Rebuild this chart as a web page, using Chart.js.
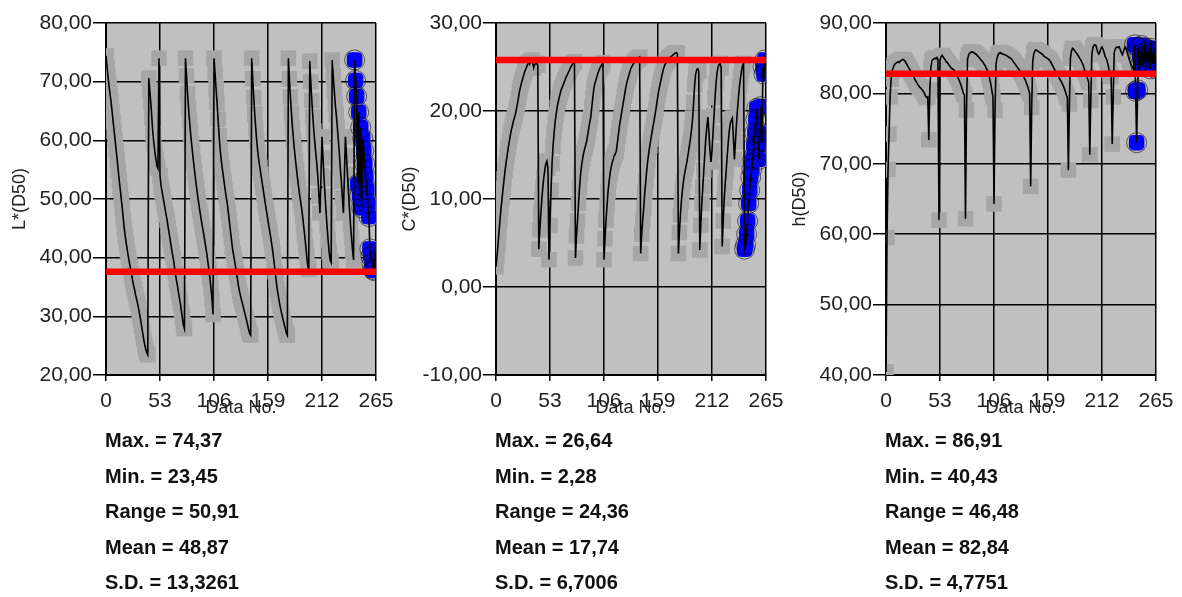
<!DOCTYPE html>
<html>
<head>
<meta charset="utf-8">
<script src="https://cdn.jsdelivr.net/npm/chart.js@4.4.1/dist/chart.umd.min.js"></script>
<style>
  html, body { margin: 0; padding: 0; background: #fff; overflow: hidden; }
  body { width: 1182px; height: 597px; position: relative; font-family: "Liberation Sans", Arial, sans-serif; }
  canvas { position: absolute; top: 0; }
  .stats { position: absolute; top: 423px; font-weight: bold; font-size: 20px; line-height: 35.5px; color: #111; white-space: nowrap; }
</style>
</head>
<body>
<canvas id="chartL" width="420" height="430" style="left:0px"></canvas>
<canvas id="chartC" width="420" height="430" style="left:390px"></canvas>
<canvas id="chartH" width="420" height="430" style="left:780px"></canvas>
<div class="stats" id="statsL" style="left:105px"></div>
<div class="stats" id="statsC" style="left:495px"></div>
<div class="stats" id="statsH" style="left:885px"></div>
<script>
// L*(D50), one value per data no. 0..265
const lValues = [
  74.4, 72.5, 70.8, 69.2, 67.9, 66.5, 64.9, 63.2, 61.6, 60.0,
  58.3, 56.6, 54.9, 53.2, 51.6, 50.0, 48.4, 46.6, 44.9, 43.5,
  42.3, 41.2, 40.1, 39.1, 38.2, 37.3, 36.2, 35.3, 34.6, 33.7,
  32.9, 32.2, 31.3, 30.3, 29.4, 28.3, 27.2, 26.1, 25.2, 24.4,
  23.8, 23.45, 70.6, 68.5, 66.4, 63.8, 61.2, 59.5, 58.0, 56.8,
  55.6, 55.2, 74.0, 54.0, 52.3, 51.3, 50.3, 49.3, 48.3, 47.3,
  46.4, 45.2, 44.1, 43.0, 41.9, 40.8, 39.9, 38.7, 37.4, 36.3,
  35.3, 34.2, 33.2, 32.2, 30.9, 29.7, 28.5, 27.9, 74.0, 71.0,
  68.0, 65.5, 63.3, 61.2, 59.5, 57.8, 56.2, 54.7, 53.2, 51.8,
  50.5, 49.3, 48.1, 47.0, 45.9, 44.9, 43.9, 42.8, 41.7, 40.6,
  39.3, 37.9, 36.5, 34.8, 33.0, 30.3, 74.0, 71.5, 68.8, 66.4,
  63.6, 60.8, 58.5, 56.8, 55.4, 54.1, 52.8, 51.5, 50.3, 49.3,
  47.8, 46.3, 44.8, 43.3, 41.8, 40.7, 39.7, 38.6, 37.5, 36.4,
  35.2, 34.3, 33.5, 32.8, 32.1, 31.4, 30.7, 30.0, 29.3, 28.5,
  27.7, 27.1, 26.8, 74.0, 70.5, 67.3, 64.5, 62.0, 59.8, 58.0,
  56.6, 55.4, 54.2, 53.1, 52.0, 50.8, 49.6, 48.5, 47.4, 46.3,
  45.2, 44.2, 43.1, 41.9, 40.6, 39.2, 37.6, 36.1, 34.7, 33.6,
  32.6, 31.6, 30.8, 30.0, 29.3, 28.6, 27.9, 27.2, 26.8, 74.0,
  70.5, 67.4, 64.6, 62.2, 60.1, 58.3, 56.6, 55.0, 53.5, 52.1,
  50.8, 49.6, 48.4, 47.0, 45.4, 43.8, 42.1, 40.3, 38.6, 38.0,
  73.5, 70.0, 66.8, 64.0, 61.6, 59.5, 57.6, 55.8, 53.6, 50.5,
  47.6, 54.0, 60.6, 57.0, 53.5, 50.5, 47.8, 45.3, 43.0, 41.0,
  39.6, 39.2, 73.7, 71.0, 68.6, 66.2, 64.4, 62.3, 60.1, 57.8,
  55.2, 53.0, 50.2, 47.6, 54.0, 60.6, 57.4, 54.2, 51.0, 48.2,
  45.6, 43.3, 41.2, 39.6, 73.7, 70.2, 67.5, 52.5, 64.8, 50.5,
  62.2, 48.5, 60.3, 58.2, 56.0, 53.8, 51.5, 49.2, 47.0, 41.5,
  40.2, 39.0, 38.0, 37.8, 40.6, 39.5,
];

// C*(D50)
const cValues = [
  2.3, 3.5, 4.9, 6.3, 7.7, 9.0, 10.1, 11.2, 12.3, 13.3,
  14.2, 15.0, 15.8, 16.5, 17.2, 17.8, 18.3, 18.8, 19.2, 19.6,
  20.2, 20.8, 21.5, 22.2, 22.7, 23.2, 23.6, 24.0, 24.4, 24.7,
  25.0, 25.3, 25.5, 25.3, 25.6, 25.8, 25.5, 24.9, 25.3, 25.4,
  25.4, 25.2, 4.3, 6.5, 8.3, 10.0, 11.4, 12.5, 13.4, 14.0,
  14.3, 13.5, 3.1, 7.0, 11.0, 14.0, 16.0, 17.5, 18.7, 19.6,
  20.4, 21.0, 21.5, 22.0, 22.4, 22.7, 23.0, 23.3, 23.6, 23.9,
  24.1, 24.4, 24.6, 24.9, 25.1, 25.3, 25.5, 25.6, 3.3, 5.8,
  7.5, 9.5, 11.3, 12.8, 13.8, 14.6, 15.2, 15.7, 16.1, 16.6,
  17.3, 18.0, 18.7, 19.3, 20.4, 21.5, 22.5, 23.1, 23.5, 23.9,
  24.3, 24.6, 24.9, 25.1, 25.3, 25.5, 3.1, 5.5, 7.6, 9.3,
  10.9, 12.0, 12.9, 13.6, 14.1, 14.5, 14.9, 15.1, 15.4, 16.3,
  17.2, 18.1, 18.9, 19.6, 20.3, 21.0, 21.7, 22.4, 23.0, 23.5,
  23.9, 24.3, 24.7, 25.0, 25.2, 25.4, 25.6, 25.7, 25.8, 25.9,
  26.0, 26.1, 3.8, 6.0, 7.6, 9.0, 10.7, 12.0, 13.3, 14.4,
  15.3, 16.1, 16.8, 17.5, 18.2, 18.8, 19.5, 20.2, 21.0, 21.8,
  22.5, 23.0, 23.6, 24.1, 24.6, 25.0, 25.3, 25.5, 25.7, 25.9,
  26.0, 26.1, 26.2, 26.3, 26.4, 26.5, 26.6, 26.64, 26.5, 3.8,
  6.2, 8.2, 9.8, 11.0, 12.0, 12.8, 13.4, 14.0, 14.7, 15.4,
  16.2, 17.0, 18.0, 19.2, 21.0, 23.0, 24.2, 24.7, 24.8, 24.5,
  4.2, 7.0, 9.5, 11.4, 13.3, 15.2, 17.0, 18.3, 19.3, 17.5,
  15.5, 14.2, 15.5, 17.5, 19.5, 21.5, 23.2, 24.4, 25.0, 25.3,
  25.4, 24.9, 4.6, 7.5, 10.0, 11.8, 13.3, 15.0, 16.5, 17.8,
  18.6, 19.0, 19.2, 17.0, 14.5, 16.5, 18.5, 20.2, 21.6, 22.8,
  23.8, 24.6, 25.2, 25.4, 4.3, 4.8, 6.0, 7.5, 9.5, 11.0,
  12.5, 13.4, 14.5, 16.0, 17.5, 19.0, 20.3, 16.0, 14.5, 17.5,
  20.5, 16.5, 25.0, 24.2, 25.8, 25.0,
];

// h(D50)
const hValues = [
  40.43, 59.5, 69.2, 74.2, 79.5, 82.0, 83.2, 83.6, 84.0, 84.2,
  84.3, 84.4, 84.5, 84.4, 84.6, 84.7, 84.8, 84.8, 84.7, 84.5,
  84.2, 84.0, 83.7, 83.5, 83.2, 82.9, 82.7, 82.4, 82.1, 81.8,
  81.6, 81.3, 81.1, 80.9, 80.8, 80.6, 80.4, 80.2, 79.9, 79.6,
  79.4, 79.5, 73.4, 80.5, 83.5, 84.6, 84.8, 84.9, 85.0, 84.9,
  85.1, 84.8, 62.0, 84.8, 85.2, 85.4, 85.2, 85.0, 84.8, 84.5,
  84.4, 84.2, 84.0, 83.8, 83.6, 83.5, 83.4, 83.3, 83.0, 82.7,
  82.4, 82.1, 81.8, 81.4, 81.0, 80.5, 80.0, 79.8, 62.2, 77.6,
  84.8, 85.4, 85.7, 85.8, 85.9, 85.9, 85.8, 85.7, 85.6, 85.5,
  85.3, 85.2, 85.0, 84.8, 84.6, 84.5, 84.2, 84.0, 83.7, 83.4,
  83.2, 82.6, 81.9, 81.2, 80.3, 79.5, 64.3, 77.6, 84.2, 85.0,
  85.5, 85.7, 85.8, 85.7, 85.6, 85.6, 85.5, 85.5, 85.4, 85.3,
  85.2, 85.1, 85.0, 84.9, 84.7, 84.5, 84.3, 84.1, 83.9, 83.7,
  83.5, 83.3, 83.1, 82.9, 82.7, 82.4, 82.1, 81.8, 81.4, 81.0,
  80.5, 80.0, 66.8, 78.0, 84.5, 85.6, 86.0, 86.2, 86.1, 86.0,
  85.9, 85.8, 85.7, 85.6, 85.5, 85.3, 85.2, 85.1, 85.0, 84.9,
  84.8, 84.6, 84.4, 84.1, 83.8, 83.5, 83.3, 83.1, 82.8, 82.5,
  82.2, 81.9, 81.7, 81.4, 81.1, 80.7, 80.3, 79.8, 79.4, 69.1,
  78.5, 85.0, 86.0, 86.4, 86.3, 86.1, 85.9, 85.7, 85.5, 85.3,
  85.0, 84.8, 84.5, 84.2, 83.8, 83.3, 82.9, 82.5, 82.0, 81.5,
  71.3, 79.0, 85.5, 86.5, 86.8, 86.9, 86.8, 86.3, 85.8, 85.6,
  85.9, 86.4, 86.6, 86.3, 85.8, 85.3, 85.0, 84.6, 84.0, 83.3,
  82.8, 82.4, 72.8, 79.5, 85.8, 86.3, 86.5, 86.6, 86.5, 86.6,
  86.2, 85.8, 85.5, 85.9, 86.4, 86.6, 86.2, 85.7, 85.2, 84.7,
  84.3, 84.0, 83.7, 83.4, 86.9, 80.3, 73.0, 80.5, 86.5, 85.5,
  84.0, 86.8, 85.2, 83.8, 86.5, 85.8, 84.5, 86.2, 85.0, 83.5,
  86.4, 85.6, 84.2, 85.9, 84.8, 83.5,
];

// red reference lines
const lRef = 37.6;
const cRef = 25.8;
const hRef = 82.8;

// points from this data no. on are drawn blue
const highlightFrom = 244;

const statNames = ["Max.", "Min.", "Range", "Mean", "S.D."];
const statsL = ["74,37", "23,45", "50,91", "48,87", "13,3261"];
const statsC = ["26,64", "2,28", "24,36", "17,74", "6,7006"];
const statsH = ["86,91", "40,43", "46,48", "82,84", "4,7751"];

const X_MAX = 265;
const X_STEP = 53;

Chart.defaults.font.family = "'Liberation Sans', Arial, sans-serif";

const plotBackground = {
  id: "plotBackground",
  beforeDraw(chart) {
    const { ctx, chartArea: a } = chart;
    ctx.save();
    ctx.fillStyle = "#c0c0c0";
    ctx.fillRect(a.left, a.top, a.right - a.left, a.bottom - a.top);
    ctx.restore();
  },
};

function toPoints(values) {
  return values.map((v, i) => ({ x: i, y: v }));
}

function fmt(v) {
  return v.toFixed(2).replace(".", ",");
}

function renderPanel(id, title, values, ref, yMin, yMax) {
  const canvas = document.getElementById(id);
  const pts = toPoints(values);
  const blue = pts.filter((p) => p.x >= highlightFrom);

  new Chart(canvas, {
    type: "line",
    data: {
      datasets: [
        {
          // reference line
          data: [{ x: 0, y: ref }, { x: X_MAX, y: ref }],
          borderColor: "#ff0000",
          borderWidth: 6.5,
          pointRadius: 0,
          order: 0,
        },
        {
          data: pts,
          borderColor: "#000",
          borderWidth: 1.6,
          pointRadius: 0,
          tension: 0,
          order: 1,
        },
        {
          data: blue,
          showLine: false,
          pointStyle: "circle",
          pointRadius: 10,
          pointBackgroundColor: "rgba(0,0,0,0)",
          pointBorderColor: "rgba(0,0,0,0.55)",
          pointBorderWidth: 1,
          order: 2,
        },
        {
          data: blue,
          showLine: false,
          pointStyle: "rectRounded",
          pointRadius: 9,
          pointBackgroundColor: "#0000ff",
          pointBorderWidth: 0,
          order: 3,
        },
        {
          data: pts,
          showLine: false,
          pointStyle: "rect",
          pointRadius: 11,
          pointBackgroundColor: "#a6a6a6",
          pointBorderWidth: 0,
          order: 4,
        },
      ],
    },
    options: {
      responsive: false,
      animation: false,
      events: [],
      layout: { padding: { left: 0, top: 23, right: 44, bottom: 0 } },
      plugins: { legend: { display: false }, tooltip: { enabled: false } },
      scales: {
        x: {
          type: "linear",
          min: 0,
          max: X_MAX,
          afterFit: (s) => { s.height = 55; },
          ticks: { stepSize: X_STEP, color: "#222", font: { size: 21 }, padding: 8, maxRotation: 0, autoSkip: false },
          grid: { color: "#000", lineWidth: 1.5, tickLength: 6 },
          border: { color: "#000", width: 2 },
          title: { display: true, text: "Data No.", color: "#222", font: { size: 18 }, padding: { top: 0, bottom: 11 } },
        },
        y: {
          min: yMin,
          max: yMax,
          afterFit: (s) => { s.width = 106; },
          ticks: { stepSize: 10, color: "#222", font: { size: 21 }, padding: 1, callback: (v) => fmt(v) },
          grid: { color: "#000", lineWidth: 1.5, tickLength: 13 },
          border: { color: "#000", width: 2 },
          title: { display: true, text: title, color: "#222", font: { size: 18 }, padding: { top: 9, bottom: 0 } },
        },
      },
    },
    plugins: [plotBackground],
  });
}

function renderStats(id, values) {
  const el = document.getElementById(id);
  el.innerHTML = statNames.map((n, i) => `<div>${n} = ${values[i]}</div>`).join("");
}

renderPanel("chartL", "L*(D50)", lValues, lRef, 20, 80);
renderPanel("chartC", "C*(D50)", cValues, cRef, -10, 30);
renderPanel("chartH", "h(D50)", hValues, hRef, 40, 90);

renderStats("statsL", statsL);
renderStats("statsC", statsC);
renderStats("statsH", statsH);
</script>
</body>
</html>
